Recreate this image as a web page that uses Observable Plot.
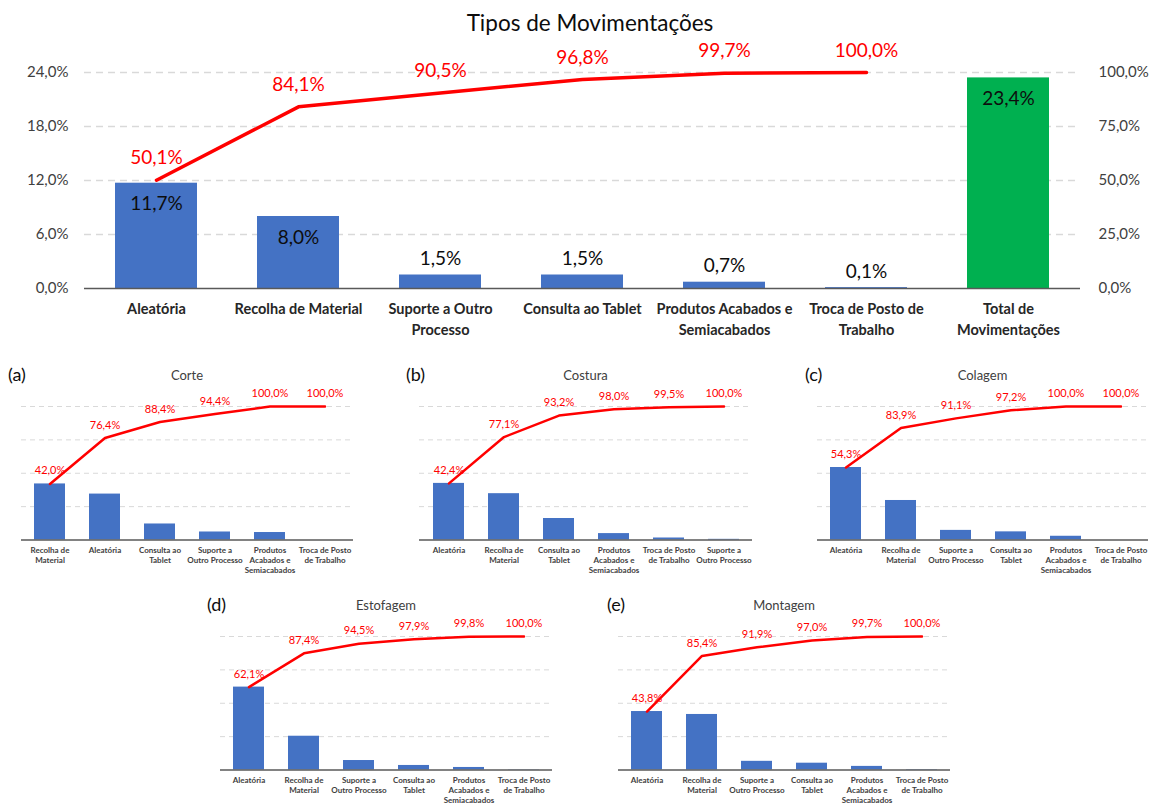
<!DOCTYPE html>
<html lang="pt">
<head>
<meta charset="utf-8">
<script src="https://cdn.jsdelivr.net/npm/d3@7"></script>
<script src="https://cdn.jsdelivr.net/npm/@observablehq/plot@0.6"></script>
<style>
  html, body { margin: 0; padding: 0; background: #fff; }
  #page { position: relative; width: 1153px; height: 805px; overflow: hidden; font-family: Lato, "Open Sans", sans-serif; color: #262626; }
  .abs { position: absolute; white-space: nowrap; line-height: 1; }
  .title-main { font-size: 22.5px; transform: translate(-50%, -50%); color: #0d0d0d; }
  .title-small { font-size: 13px; transform: translate(-50%, -50%); color: #404040; }
  .letter { font-size: 18px; transform: translateY(-50%); color: #0d0d0d; }
</style>
</head>
<body>
<div id="page"></div>
<script>
// ---- Overall movement types -------------------------------------------
const mainCats = [
  "Aleatória", "Recolha de Material", "Suporte a Outro Processo", "Consulta ao Tablet",
  "Produtos Acabados e Semiacabados", "Troca de Posto de Trabalho", "Total de Movimentações"
];
const mainValues = [11.7, 8.0, 1.5, 1.5, 0.7, 0.1, 23.4];
const mainCumulative = [50.1, 84.1, 90.5, 96.8, 99.7, 100.0];
const leftTicks = [0, 6, 12, 18, 24];
const rightTicks = [0, 25, 50, 75, 100];

// wrapped category labels
const mainTickLabels = {
  "Aleatória": "Aleatória",
  "Recolha de Material": "Recolha de Material",
  "Suporte a Outro Processo": "Suporte a Outro\nProcesso",
  "Consulta ao Tablet": "Consulta ao Tablet",
  "Produtos Acabados e Semiacabados": "Produtos Acabados e\nSemiacabados",
  "Troca de Posto de Trabalho": "Troca de Posto de\nTrabalho",
  "Total de Movimentações": "Total de\nMovimentações"
};
const smallTickLabels = {
  "Aleatória": "Aleatória",
  "Recolha de Material": "Recolha de\nMaterial",
  "Suporte a Outro Processo": "Suporte a\nOutro Processo",
  "Consulta ao Tablet": "Consulta ao\nTablet",
  "Produtos Acabados e Semiacabados": "Produtos\nAcabados e\nSemiacabados",
  "Troca de Posto de Trabalho": "Troca de Posto\nde Trabalho"
};

// ---- Per-sector breakdowns (share of movements, cumulative %) ---------
const corteCats = ["Recolha de Material", "Aleatória", "Consulta ao Tablet", "Suporte a Outro Processo", "Produtos Acabados e Semiacabados", "Troca de Posto de Trabalho"];
const corteShares = [42.0, 34.4, 12.0, 6.0, 5.6, 0.0];
const corteCumulative = [42.0, 76.4, 88.4, 94.4, 100.0, 100.0];

const costuraCats = ["Aleatória", "Recolha de Material", "Consulta ao Tablet", "Produtos Acabados e Semiacabados", "Troca de Posto de Trabalho", "Suporte a Outro Processo"];
const costuraShares = [42.4, 34.7, 16.1, 4.8, 1.5, 0.5];
const costuraCumulative = [42.4, 77.1, 93.2, 98.0, 99.5, 100.0];

const colagemCats = ["Aleatória", "Recolha de Material", "Suporte a Outro Processo", "Consulta ao Tablet", "Produtos Acabados e Semiacabados", "Troca de Posto de Trabalho"];
const colagemShares = [54.3, 29.6, 7.2, 6.1, 2.8, 0.0];
const colagemCumulative = [54.3, 83.9, 91.1, 97.2, 100.0, 100.0];

const estofagemCats = ["Aleatória", "Recolha de Material", "Suporte a Outro Processo", "Consulta ao Tablet", "Produtos Acabados e Semiacabados", "Troca de Posto de Trabalho"];
const estofagemShares = [62.1, 25.3, 7.1, 3.4, 1.9, 0.2];
const estofagemCumulative = [62.1, 87.4, 94.5, 97.9, 99.8, 100.0];

const montagemCats = ["Aleatória", "Recolha de Material", "Suporte a Outro Processo", "Consulta ao Tablet", "Produtos Acabados e Semiacabados", "Troca de Posto de Trabalho"];
const montagemShares = [43.8, 41.6, 6.5, 5.1, 2.7, 0.3];
const montagemCumulative = [43.8, 85.4, 91.9, 97.0, 99.7, 100.0];

// ---- helpers ------------------------------------------------------------
const FONT = 'Lato, "Open Sans", sans-serif';
const BLUE = "#4472C4", GREEN = "#00B050", RED = "#FF0000", GRID = "#D9D9D9", AXIS = "#595959";
const pct = v => v.toFixed(1).replace(".", ",") + "%";
const page = document.getElementById("page");

function place(el, left, top) {
  el.style.position = "absolute";
  el.style.left = left + "px";
  el.style.top = top + "px";
  page.append(el);
  return el;
}
function label(text, cls, left, top) {
  const d = document.createElement("div");
  d.className = "abs " + cls;
  d.textContent = text;
  return place(d, left, top);
}

// ---- main chart ------------------------------------------------------------
{
  const scaleMax = leftTicks[leftTicks.length - 1];       // left axis top (24 %)
  const toLeft = p => p * scaleMax / 100;                  // right-axis % -> left units
  const bars = mainCats.map((c, i) => ({cat: c, value: mainValues[i], total: i === mainCats.length - 1}));
  const cum = mainCumulative.map((v, i) => ({cat: mainCats[i], cum: v}));

  const chart = Plot.plot({
    width: 1153, height: 345,
    marginLeft: 84, marginRight: 73, marginTop: 72, marginBottom: 57,
    style: {fontFamily: FONT, background: "transparent", color: "#404040"},
    x: {domain: mainCats, paddingInner: 0.42, paddingOuter: 0.21},
    y: {domain: [0, scaleMax]},
    marks: [
      Plot.gridY(leftTicks.slice(1), {stroke: GRID, strokeOpacity: 1, strokeWidth: 1.3, strokeDasharray: "7,5"}),
      Plot.barY(bars, {x: "cat", y: "value", fill: d => d.total ? GREEN : BLUE}),
      Plot.ruleY([0], {stroke: AXIS, strokeWidth: 1.6}),
      // value labels: inside the tall bars, above the short ones
      Plot.text(bars.filter(d => d.value >= 5), {x: "cat", y: "value", text: d => pct(d.value), dy: 21, fontSize: 19, fill: "#0d0d0d"}),
      Plot.text(bars.filter(d => d.value < 5), {x: "cat", y: "value", text: d => pct(d.value), dy: -16, fontSize: 19, fill: "#0d0d0d"}),
      // cumulative curve
      Plot.line(cum, {x: "cat", y: d => toLeft(d.cum), stroke: RED, strokeWidth: 3.5, strokeLinejoin: "round"}),
      Plot.text(cum, {x: "cat", y: d => toLeft(d.cum), text: d => pct(d.cum), dy: -22, fontSize: 19, fill: RED}),
      Plot.axisY(leftTicks, {anchor: "left", label: null, tickSize: 0, tickPadding: 16, tickFormat: pct, fontSize: 15, fill: "#404040"}),
      Plot.axisY(rightTicks.map(toLeft), {anchor: "right", label: null, tickSize: 0, tickPadding: 18, tickFormat: d => pct(d * 100 / scaleMax), fontSize: 15, fill: "#404040", textAnchor: "start"}),
      Plot.axisX({label: null, tickSize: 0, tickPadding: 11, tickFormat: d => mainTickLabels[d], fontSize: 14.5, fontWeight: "bold", lineHeight: 1.45, fill: "#262626"})
    ]
  });
  place(chart, 0, 0);
  label("Tipos de Movimentações", "title-main", 590, 23);
}

// ---- sector charts ---------------------------------------------------------
function sector({title, letter, cats, shares, cumulative}, box) {
  const bars = cats.map((c, i) => ({cat: c, value: shares[i]}));
  const cum = cats.map((c, i) => ({cat: c, cum: cumulative[i]}));
  const padTop = 26, padBottom = 40, padSide = 22;
  const chart = Plot.plot({
    width: (box.right - box.left) + 2 * padSide,
    height: (box.base - box.top) + padTop + padBottom,
    marginLeft: padSide, marginRight: padSide, marginTop: padTop, marginBottom: padBottom,
    style: {fontFamily: FONT, background: "transparent", color: "#404040"},
    x: {domain: cats, paddingInner: 0.44, paddingOuter: 0.22},
    y: {domain: [0, 100], axis: null},
    marks: [
      Plot.gridY([25, 50, 75, 100], {stroke: GRID, strokeOpacity: 1, strokeWidth: 1, strokeDasharray: "5,4"}),
      Plot.barY(bars, {x: "cat", y: "value", fill: BLUE}),
      Plot.ruleY([0], {stroke: AXIS, strokeWidth: 1.3}),
      Plot.line(cum, {x: "cat", y: "cum", stroke: RED, strokeWidth: 2.5, strokeLinejoin: "round"}),
      Plot.text(cum, {x: "cat", y: "cum", text: d => pct(d.cum), dy: -13, fontSize: 11, fill: RED}),
      Plot.axisX({label: null, tickSize: 0, tickPadding: 6, tickFormat: d => smallTickLabels[d], fontSize: 8, fontWeight: "bold", lineHeight: 1.25, fill: "#404040"})
    ]
  });
  place(chart, box.left - padSide, box.top - padTop);
  label(title, "title-small", (box.left + box.right) / 2, box.top - 31);
  label(letter, "letter", box.letterX, box.top - 32);
}

sector({title: "Corte", letter: "(a)", cats: corteCats, shares: corteShares, cumulative: corteCumulative},
       {left: 21, right: 353, top: 405.5, base: 539, letterX: 8});
sector({title: "Costura", letter: "(b)", cats: costuraCats, shares: costuraShares, cumulative: costuraCumulative},
       {left: 419, right: 752, top: 405.5, base: 539, letterX: 406});
sector({title: "Colagem", letter: "(c)", cats: colagemCats, shares: colagemShares, cumulative: colagemCumulative},
       {left: 817, right: 1148, top: 405.5, base: 539, letterX: 805});
sector({title: "Estofagem", letter: "(d)", cats: estofagemCats, shares: estofagemShares, cumulative: estofagemCumulative},
       {left: 220, right: 552, top: 635.5, base: 769, letterX: 207});
sector({title: "Montagem", letter: "(e)", cats: montagemCats, shares: montagemShares, cumulative: montagemCumulative},
       {left: 618, right: 950, top: 635.5, base: 769, letterX: 607});
</script>
</body>
</html>
